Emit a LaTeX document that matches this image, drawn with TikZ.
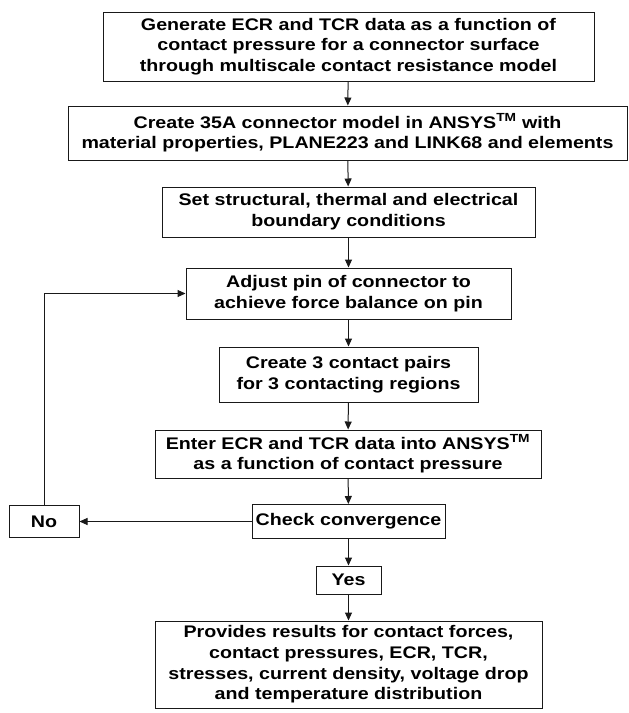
\documentclass[tikz,border=0pt]{standalone}
\usepackage{fontspec}
\setmainfont{Liberation Sans}[FakeStretch=1.17]
\usetikzlibrary{arrows.meta}

\begin{document}
\begin{tikzpicture}[x=1pt,y=-1pt,
    stepbox/.style={draw=black!90, line width=1pt, inner sep=0pt, align=center,
        font=\fontsize{16.8}{20.7}\selectfont\bfseries},
    flow/.style={draw=black!90, line width=1pt, -{Triangle[length=8pt,width=7pt]}}]
    \useasboundingbox (0,0) rectangle (629,713);

    % Main chain of steps
    \node[stepbox, minimum width=491pt, minimum height=69pt] (gen) at (348.5,46.5)
        {Generate ECR and TCR data as a function of\\
         contact pressure for a connector surface\\
         through multiscale contact resistance model};
    \node[stepbox, minimum width=559pt, minimum height=54pt] (model) at (347.5,133)
        {Create 35A connector model in ANSYS\textsuperscript{TM} with\\
         material properties, PLANE223 and LINK68 and elements};
    \node[stepbox, minimum width=373pt, minimum height=50pt] (bc) at (348.5,212)
        {Set structural, thermal and electrical\\ boundary conditions};
    \node[stepbox, minimum width=325pt, minimum height=51pt] (adj) at (348.5,293.5)
        {Adjust pin of connector to\\ achieve force balance on pin};
    \node[stepbox, minimum width=259pt, minimum height=55pt] (pairs) at (348.5,374.5)
        {Create 3 contact pairs\\ for 3 contacting regions};
    \node[stepbox, minimum width=386pt, minimum height=48pt] (enter) at (348,454)
        {Enter ECR and TCR data into ANSYS\textsuperscript{TM}\\
         as a function of contact pressure};
    \node[stepbox, minimum width=193pt, minimum height=34pt] (chk) at (348.5,521.5)
        {Check convergence};

    % Decision outcomes
    \node[stepbox, minimum width=70pt, minimum height=32pt] (no) at (44,521.5) {No};
    \node[stepbox, minimum width=65pt, minimum height=28pt] (yes) at (348.5,580) {Yes};
    \node[stepbox, minimum width=387pt, minimum height=87pt] (res) at (348.5,664.5)
        {Provides results for contact forces,\\
         contact pressures, ECR, TCR,\\
         stresses, current density, voltage drop\\
         and temperature distribution};

    % Connectors
    \draw[flow] (gen) -- (model);
    \draw[flow] (model) -- (bc);
    \draw[flow] (bc) -- (adj);
    \draw[flow] (adj) -- (pairs);
    \draw[flow] (pairs) -- (enter);
    \draw[flow] (enter) -- (chk);
    \draw[flow] (chk) -- (yes);
    \draw[flow] (yes) -- (res);
    \draw[flow] (chk) -- (no);
    \draw[flow] (no.north) |- (adj.west);
\end{tikzpicture}
\end{document}
